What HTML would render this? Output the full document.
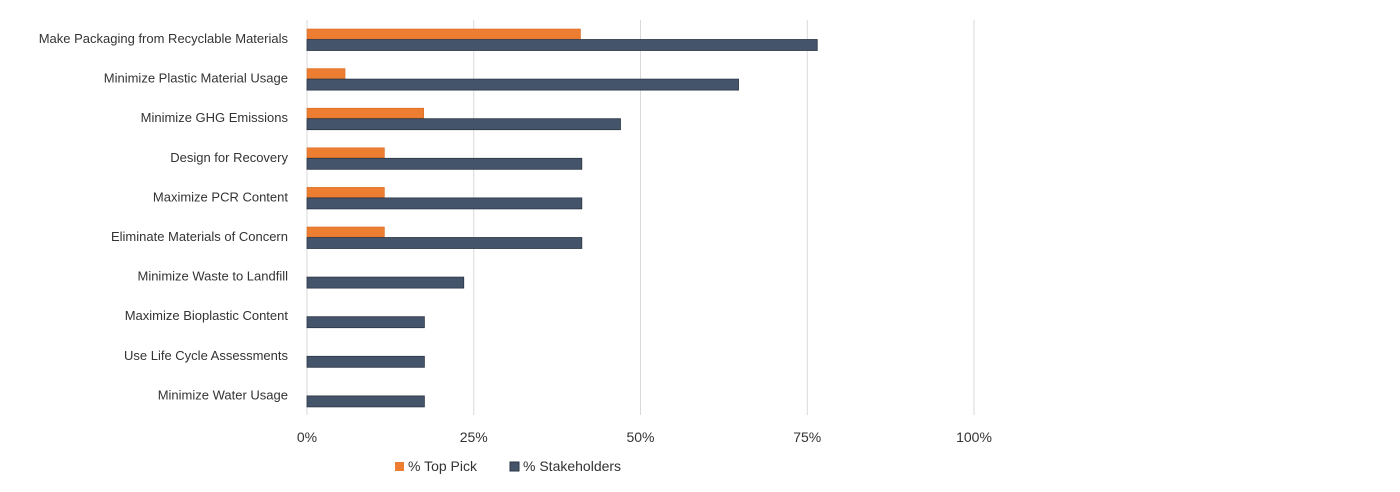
<!DOCTYPE html>
<html><head><meta charset="utf-8"><style>
body{margin:0;background:#fff;font-family:"Liberation Sans",sans-serif;}
svg text{font-family:"Liberation Sans",sans-serif;fill:#333;}
</style></head><body>
<svg width="1400" height="487">
<g id="grid"></g><g id="bars"></g><g id="labels"></g><g id="ticks"></g>
<g>
<rect x="395" y="462" width="9" height="9" fill="#ED7D31"/>
<text x="408" y="471" font-size="14">%  Top Pick</text>
<rect x="510" y="462" width="9" height="9" fill="#44546A" stroke="#2b3645"/>
<text x="523" y="471" font-size="14">% Stakeholders</text>
</g>
</svg>
<script>
const categories=["Make Packaging from Recyclable Materials","Minimize Plastic Material Usage","Minimize GHG Emissions","Design for Recovery","Maximize PCR Content","Eliminate Materials of Concern","Minimize Waste to Landfill","Maximize Bioplastic Content","Use Life Cycle Assessments","Minimize Water Usage"];
const topPick=[41,5.7,17.5,11.6,11.6,11.6,0,0,0,0];
const stakeholders=[76.5,64.7,47,41.2,41.2,41.2,23.5,17.6,17.6,17.6];
const tickValues=[0,25,50,75,100];
const tickLabels=["0%","25%","50%","75%","100%"];
const NS="http://www.w3.org/2000/svg";
const x0=307,pxPer=6.67;
function xs(v){return x0+v*pxPer;}
function rowY(i){return 29+i*39.6;}
function mk(tag,attrs,parent,text){const e=document.createElementNS(NS,tag);for(const k in attrs)e.setAttribute(k,attrs[k]);if(text!==undefined)e.textContent=text;document.getElementById(parent).appendChild(e);return e;}
tickValues.forEach((t,i)=>{
 const g=mk('line',{x1:xs(t),x2:xs(t),y1:20,y2:415,stroke:'#d9d9d9','stroke-width':1},'grid');
 
 
 const l=mk('text',{x:xs(t),y:442,'font-size':14,'text-anchor':'middle'},'ticks',tickLabels[i]);
 
 
});
categories.forEach((c,i)=>{
 const y=rowY(i);
 const lab=mk('text',{x:288,y:y+14,'font-size':13,'text-anchor':'end'},'labels',c);
 
 
 if(topPick[i]>0){
  const b=mk('rect',{x:x0,y:y,width:xs(topPick[i])-x0,height:10,fill:'#ED7D31',stroke:'#d86a20','stroke-width':0.6},'bars');
  
  
 }
 const b2=mk('rect',{x:x0,y:y+10.5,width:xs(stakeholders[i])-x0,height:11,fill:'#44546A',stroke:'#2b3645','stroke-width':0.8},'bars');
 
 
});
</script>
</body></html>
